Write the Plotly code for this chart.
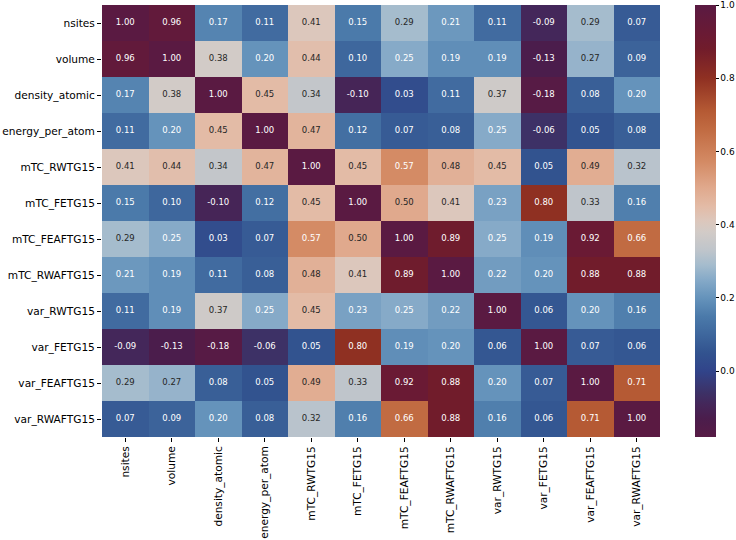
import plotly.graph_objects as go

labels = ["nsites", "volume", "density_atomic", "energy_per_atom", "mTC_RWTG15",
          "mTC_FETG15", "mTC_FEAFTG15", "mTC_RWAFTG15", "var_RWTG15", "var_FETG15",
          "var_FEAFTG15", "var_RWAFTG15"]

row_nsites = [1.00, 0.96, 0.17, 0.11, 0.41, 0.15, 0.29, 0.21, 0.11, -0.09, 0.29, 0.07]
row_volume = [0.96, 1.00, 0.38, 0.20, 0.44, 0.10, 0.25, 0.19, 0.19, -0.13, 0.27, 0.09]
row_density_atomic = [0.17, 0.38, 1.00, 0.45, 0.34, -0.10, 0.03, 0.11, 0.37, -0.18, 0.08, 0.20]
row_energy_per_atom = [0.11, 0.20, 0.45, 1.00, 0.47, 0.12, 0.07, 0.08, 0.25, -0.06, 0.05, 0.08]
row_mTC_RWTG15 = [0.41, 0.44, 0.34, 0.47, 1.00, 0.45, 0.57, 0.48, 0.45, 0.05, 0.49, 0.32]
row_mTC_FETG15 = [0.15, 0.10, -0.10, 0.12, 0.45, 1.00, 0.50, 0.41, 0.23, 0.80, 0.33, 0.16]
row_mTC_FEAFTG15 = [0.29, 0.25, 0.03, 0.07, 0.57, 0.50, 1.00, 0.89, 0.25, 0.19, 0.92, 0.66]
row_mTC_RWAFTG15 = [0.21, 0.19, 0.11, 0.08, 0.48, 0.41, 0.89, 1.00, 0.22, 0.20, 0.88, 0.88]
row_var_RWTG15 = [0.11, 0.19, 0.37, 0.25, 0.45, 0.23, 0.25, 0.22, 1.00, 0.06, 0.20, 0.16]
row_var_FETG15 = [-0.09, -0.13, -0.18, -0.06, 0.05, 0.80, 0.19, 0.20, 0.06, 1.00, 0.07, 0.06]
row_var_FEAFTG15 = [0.29, 0.27, 0.08, 0.05, 0.49, 0.33, 0.92, 0.88, 0.20, 0.07, 1.00, 0.71]
row_var_RWAFTG15 = [0.07, 0.09, 0.20, 0.08, 0.32, 0.16, 0.66, 0.88, 0.16, 0.06, 0.71, 1.00]

z = [row_nsites, row_volume, row_density_atomic, row_energy_per_atom, row_mTC_RWTG15,
     row_mTC_FETG15, row_mTC_FEAFTG15, row_mTC_RWAFTG15, row_var_RWTG15, row_var_FETG15,
     row_var_FEAFTG15, row_var_RWAFTG15]

vmin, vmax = -0.18, 1.00
stops = [
    (-0.18, "#571b45"), (-0.13, "#4b1d4c"), (-0.09, "#44275a"), (-0.06, "#3d3166"),
    (0.00, "#31448a"), (0.05, "#32538f"), (0.10, "#3e679d"), (0.15, "#4b7aaa"),
    (0.20, "#6593bb"), (0.25, "#86aac8"), (0.29, "#a5bccd"), (0.33, "#bfc5cb"),
    (0.38, "#d2cbc7"), (0.41, "#dcc7bc"), (0.45, "#e3bba6"), (0.50, "#e0a98d"),
    (0.57, "#d48b65"), (0.66, "#c16b42"), (0.71, "#b55a34"), (0.80, "#8f3022"),
    (0.88, "#711c2b"), (0.92, "#6a1a34"), (1.00, "#5a1a42"),
]
colorscale = [[(v - vmin) / (vmax - vmin), c] for v, c in stops]

xs, ys, texts, tcolors = [], [], [], []
for i, r in enumerate(labels):
    for j, c in enumerate(labels):
        v = z[i][j]
        xs.append(c)
        ys.append(r)
        texts.append(f"{v:.2f}")
        tcolors.append("#262626" if 0.265 <= v <= 0.52 else "white")

n = len(labels)

fig = go.Figure()
fig.add_trace(go.Heatmap(
    z=z, x=labels, y=labels, zmin=vmin, zmax=vmax, colorscale=colorscale,
    colorbar=dict(
        x=1.0627, xanchor="left", xpad=0, ypad=0, y=0.5, yanchor="middle",
        len=1.0, lenmode="fraction",
        thickness=21, outlinewidth=0, ticks="outside", ticklen=3, tickwidth=1,
        tickcolor="black", tickvals=[0.0, 0.2, 0.4, 0.6, 0.8, 1.0],
        ticktext=["0.0", "0.2", "0.4", "0.6", "0.8", "1.0"],
        tickfont=dict(family="DejaVu Sans", size=9, color="black"),
    ),
    hoverinfo="skip",
))
fig.add_trace(go.Scatter(
    x=xs, y=ys, mode="text", text=texts,
    textfont=dict(family="DejaVu Sans", size=8.5, color=tcolors),
    hoverinfo="skip", showlegend=False,
))

fig.update_layout(
    width=736, height=540,
    margin=dict(l=102, r=76, t=5, b=103, autoexpand=False),
    paper_bgcolor="white", plot_bgcolor="white",
    font=dict(family="DejaVu Sans", size=10.6, color="black"),
    showlegend=False,
)
fig.update_xaxes(
    type="category", range=[-0.5, n - 0.5], tickangle=-90, ticks="outside", ticklen=4,
    tickcolor="black", showgrid=False, zeroline=False, showline=False, automargin=False,
    tickfont=dict(family="DejaVu Sans", size=10.6, color="black"),
)
fig.update_yaxes(
    type="category", range=[n - 0.5, -0.5], ticks="outside", ticklen=4, tickcolor="black",
    showgrid=False, zeroline=False, showline=False, automargin=False,
    tickfont=dict(family="DejaVu Sans", size=10.6, color="black"),
)

fig.write_html("out.html", config={"displayModeBar": False},
               post_script="document.body.style.margin='0px';")
